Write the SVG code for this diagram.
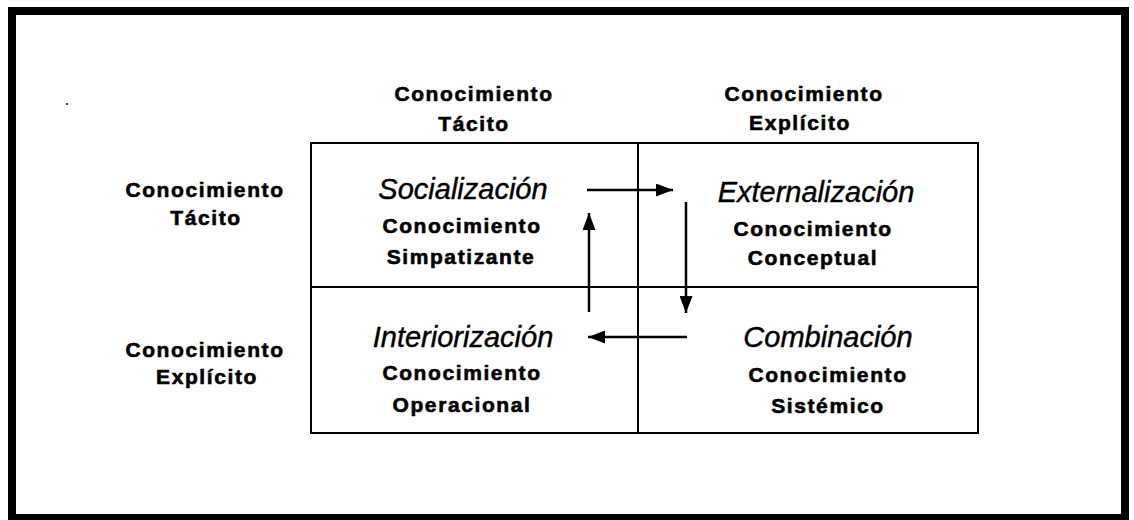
<svg xmlns="http://www.w3.org/2000/svg" width="1134" height="520" viewBox="0 0 1134 520">
<defs>
<style>
.b{font-family:"Liberation Sans",Arial,sans-serif;font-weight:bold;font-size:21px;letter-spacing:1.6px;fill:#000;stroke:#000;stroke-width:0.6;text-anchor:middle}
.t{font-family:"Liberation Sans",Arial,sans-serif;font-style:italic;font-size:29px;fill:#000;stroke:#000;stroke-width:0.4;text-anchor:middle}
.g{fill:none;stroke:#000;stroke-width:2}
.c{stroke:#000;stroke-width:2.5;fill:none}
</style>
<marker id="ah" viewBox="0 0 17 13" refX="17" refY="6.5" markerWidth="17" markerHeight="13" markerUnits="userSpaceOnUse" orient="auto">
<path d="M0,0 L17,6.5 L0,13 Z" fill="#000"/>
</marker>
</defs>
<rect width="1134" height="520" fill="#fff"/>
<rect x="12" y="11" width="1113" height="507" fill="none" stroke="#000" stroke-width="8"/>
<circle cx="67" cy="104" r="1" fill="#000"/>
<g id="headers">
<text class="b" x="474" y="101">Conocimiento</text>
<text class="b" x="474" y="131">Tácito</text>
<text class="b" x="804" y="101">Conocimiento</text>
<text class="b" x="800" y="130">Explícito</text>
<text class="b" x="205" y="197">Conocimiento</text>
<text class="b" x="206" y="225">Tácito</text>
<text class="b" x="205" y="357">Conocimiento</text>
<text class="b" x="207" y="384">Explícito</text>
</g>
<g id="grid">
<rect class="g" x="311" y="143" width="667" height="290"/>
<line class="g" x1="638" y1="143" x2="638" y2="433"/>
<line class="g" x1="311" y1="287" x2="978" y2="287"/>
</g>
<g id="socializacion">
<text class="t" x="463" y="199">Socialización</text>
<text class="b" x="462" y="233">Conocimiento</text>
<text class="b" x="461" y="264">Simpatizante</text>
</g>
<g id="externalizacion">
<text class="t" x="816" y="202">Externalización</text>
<text class="b" x="813" y="236">Conocimiento</text>
<text class="b" x="813" y="265">Conceptual</text>
</g>
<g id="interiorizacion">
<text class="t" x="463" y="347">Interiorización</text>
<text class="b" x="462" y="380">Conocimiento</text>
<text class="b" x="462" y="412">Operacional</text>
</g>
<g id="combinacion">
<text class="t" x="828" y="347">Combinación</text>
<text class="b" x="828" y="382">Conocimiento</text>
<text class="b" x="828" y="413">Sistémico</text>
</g>
<g id="connectors">
<line class="c" x1="587" y1="190" x2="673" y2="190" marker-end="url(#ah)"/>
<line class="c" x1="686" y1="202" x2="686" y2="313" marker-end="url(#ah)"/>
<line class="c" x1="687" y1="337" x2="588" y2="337" marker-end="url(#ah)"/>
<line class="c" x1="589" y1="312" x2="589" y2="213" marker-end="url(#ah)"/>
</g>
</svg>
